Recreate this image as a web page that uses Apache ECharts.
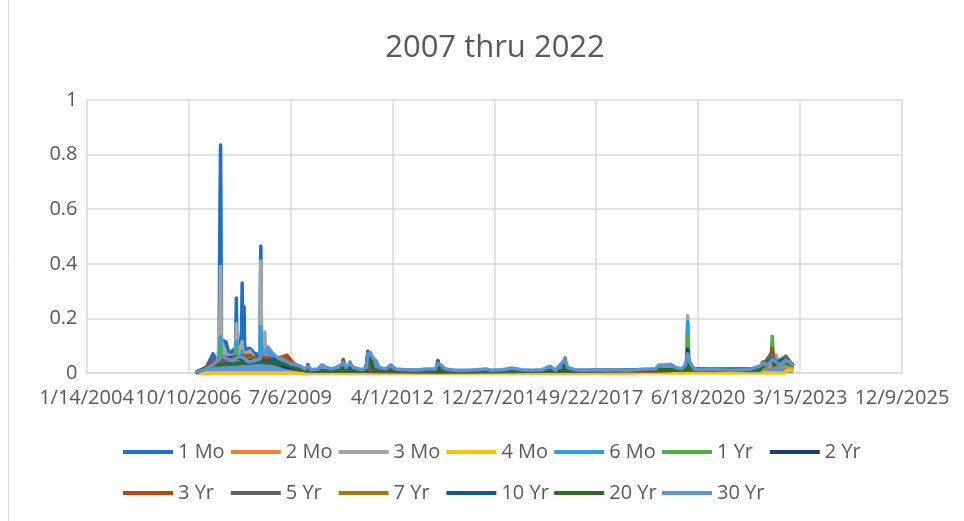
<!DOCTYPE html>
<html>
<head>
<meta charset="utf-8">
<script src="https://cdn.jsdelivr.net/npm/echarts@6/dist/echarts.min.js"></script>
<style>
  html, body { margin: 0; padding: 0; background: #fff; }
  #chart { width: 964px; height: 521px; }
</style>
</head>
<body>
<div id="chart"></div>
<script>
// dates are Excel serial day numbers (38000 = 1/14/2004)
const xTickLabels = ['1/14/2004', '10/10/2006', '7/6/2009', '4/1/2012', '12/27/2014',
  '9/22/2017', '6/18/2020', '3/15/2023', '12/9/2025'];
const xMin = 38000;
const xStep = 1000;
const yTicks = [0, 0.2, 0.4, 0.6, 0.8, 1];

const names = ['1 Mo', '2 Mo', '3 Mo', '4 Mo', '6 Mo', '1 Yr', '2 Yr', '3 Yr', '5 Yr', '7 Yr', '10 Yr', '20 Yr', '30 Yr'];
const colors = ['#1F6FC6', '#F57F30', '#A5A5A5', '#FFC000', '#27A0DC', '#4CB043', '#143F6E',
  '#B5480E', '#636363', '#A57A08', '#105A94', '#2E6B26', '#5B93D9'];

const mo1 = [[39083,0.005],[39162,0.01],[39241,0.07],[39270,0.05],[39300,0.06],[39309,0.6],[39315,0.835],[39319,0.58],[39324,0.12],[39368,0.115],[39400,0.07],[39427,0.08],[39462,0.09],[39470,0.275],[39476,0.1],[39506,0.1],[39521,0.15],[39527,0.33],[39533,0.12],[39541,0.1],[39546,0.243],[39552,0.09],[39604,0.09],[39653,0.07],[39700,0.07],[39705,0.3],[39710,0.465],[39716,0.15],[39740,0.09],[39780,0.08],[39849,0.05],[39967,0.03],[40094,0.015],[40300,0.008],[41000,0.006],[42000,0.006],[43000,0.008],[43880,0.01],[43897,0.06],[43915,0.01],[44600,0.008],[44727,0.03],[44925,0.02]];
const mo2 = [[39083,0],[43380,0],[43395,0.008],[43880,0.01],[43897,0.05],[43915,0.01],[44600,0.008],[44727,0.03],[44925,0.02]];
const mo3 = [[39083,0.003],[39241,0.03],[39290,0.05],[39309,0.2],[39315,0.39],[39321,0.12],[39368,0.07],[39427,0.06],[39462,0.07],[39470,0.18],[39477,0.08],[39506,0.09],[39527,0.115],[39535,0.07],[39604,0.08],[39653,0.05],[39700,0.06],[39705,0.2],[39710,0.41],[39718,0.12],[39743,0.1],[39750,0.15],[39757,0.06],[39849,0.04],[39967,0.02],[40094,0.012],[40300,0.007],[41500,0.005],[43000,0.007],[43885,0.012],[43897,0.21],[43908,0.015],[44600,0.008],[44700,0.03],[44765,0.066],[44800,0.03],[44830,0.04],[44860,0.063],[44890,0.035],[44925,0.03]];
const mo4 = [[39083,0],[44850,0],[44870,0.01],[44925,0.01]];
const mo6 = [[39083,0.003],[39241,0.03],[39300,0.04],[39310,0.1],[39315,0.133],[39321,0.05],[39368,0.06],[39462,0.05],[39470,0.115],[39477,0.05],[39521,0.05],[39527,0.08],[39535,0.05],[39604,0.05],[39700,0.05],[39705,0.1],[39710,0.17],[39716,0.07],[39780,0.08],[39849,0.04],[39967,0.02],[40094,0.012],[40300,0.007],[41500,0.005],[43000,0.007],[43885,0.012],[43893,0.1],[43897,0.188],[43903,0.14],[43910,0.015],[44600,0.008],[44727,0.05],[44925,0.03]];
const yr1 = [[39083,0.003],[39241,0.03],[39300,0.04],[39315,0.099],[39321,0.05],[39462,0.04],[39470,0.09],[39477,0.04],[39604,0.05],[39710,0.06],[39849,0.04],[39967,0.02],[40094,0.012],[40300,0.007],[41500,0.005],[43000,0.007],[43885,0.012],[43897,0.139],[43908,0.015],[44600,0.01],[44715,0.04],[44727,0.135],[44740,0.04],[44800,0.03],[44925,0.03]];
const yr2 = [[39083,0.003],[39241,0.03],[39315,0.05],[39470,0.06],[39527,0.05],[39604,0.045],[39710,0.06],[39849,0.035],[39967,0.02],[40094,0.012],[40300,0.007],[41500,0.005],[42680,0.007],[42694,0.03],[42710,0.007],[43600,0.008],[43616,0.02],[43630,0.008],[43885,0.012],[43897,0.087],[43912,0.015],[44600,0.01],[44727,0.075],[44745,0.03],[44860,0.05],[44925,0.03]];
const yr3 = [[39083,0.004],[39162,0.015],[39241,0.045],[39300,0.04],[39400,0.05],[39480,0.06],[39604,0.065],[39653,0.05],[39720,0.06],[39849,0.05],[39967,0.065],[40020,0.04],[40094,0.02],[40160,0.008],[40173,0.025],[40190,0.008],[40740,0.008],[40761,0.05],[40780,0.008],[41430,0.008],[41448,0.035],[41465,0.008],[42680,0.008],[42694,0.04],[42710,0.008],[43600,0.008],[43616,0.028],[43630,0.008],[43885,0.012],[43897,0.07],[43912,0.012],[44600,0.012],[44636,0.04],[44700,0.04],[44727,0.09],[44745,0.04],[44800,0.035],[44860,0.06],[44925,0.03]];
const yr5 = [[39083,0.004],[39241,0.03],[39400,0.035],[39604,0.04],[39849,0.04],[39967,0.035],[40094,0.015],[40160,0.008],[40173,0.025],[40190,0.008],[40740,0.008],[40761,0.06],[40780,0.01],[41430,0.008],[41448,0.04],[41465,0.008],[42680,0.008],[42694,0.045],[42710,0.008],[43885,0.012],[43897,0.06],[43912,0.012],[44600,0.012],[44727,0.07],[44745,0.03],[44860,0.06],[44925,0.03]];
const yr7 = [[39083,0.004],[39241,0.03],[39500,0.035],[39700,0.04],[39849,0.04],[39900,0.045],[39918,0.06],[39940,0.035],[39967,0.03],[40094,0.015],[40155,0.008],[40173,0.03],[40190,0.008],[40500,0.008],[40519,0.05],[40540,0.012],[40570,0.012],[40585,0.04],[40600,0.01],[40740,0.008],[40761,0.075],[40790,0.05],[40815,0.01],[41430,0.008],[41448,0.047],[41465,0.008],[42680,0.008],[42694,0.055],[42710,0.008],[43600,0.008],[43616,0.025],[43630,0.008],[43885,0.012],[43897,0.06],[43912,0.012],[44600,0.015],[44636,0.04],[44660,0.02],[44727,0.06],[44745,0.03],[44832,0.055],[44860,0.045],[44925,0.03]];
const yr10 = [[39083,0.004],[39241,0.03],[39500,0.035],[39700,0.04],[39880,0.05],[39900,0.035],[39967,0.03],[40094,0.015],[40155,0.008],[40173,0.028],[40190,0.008],[40500,0.008],[40519,0.045],[40540,0.01],[40570,0.01],[40585,0.035],[40600,0.01],[40740,0.008],[40761,0.075],[40790,0.05],[40815,0.01],[41430,0.008],[41448,0.043],[41465,0.008],[42680,0.008],[42694,0.05],[42710,0.008],[43885,0.012],[43897,0.065],[43912,0.012],[44600,0.015],[44727,0.055],[44745,0.03],[44832,0.05],[44860,0.04],[44925,0.03]];
const yr20 = [[39083,0.004],[39241,0.028],[39500,0.035],[39700,0.04],[39849,0.035],[39967,0.03],[40094,0.015],[40155,0.008],[40173,0.03],[40190,0.008],[40500,0.008],[40519,0.043],[40540,0.008],[40740,0.008],[40761,0.08],[40790,0.05],[40815,0.01],[41430,0.008],[41448,0.04],[41465,0.008],[42680,0.008],[42694,0.048],[42710,0.008],[43885,0.012],[43897,0.07],[43912,0.012],[44600,0.015],[44727,0.052],[44745,0.03],[44832,0.045],[44925,0.03]];
const yr30 = [[39083,0.005],[39162,0.012],[39241,0.03],[39290,0.045],[39330,0.06],[39390,0.05],[39440,0.045],[39490,0.06],[39540,0.055],[39590,0.04],[39640,0.045],[39690,0.05],[39725,0.07],[39760,0.08],[39780,0.095],[39820,0.075],[39860,0.06],[39900,0.05],[39950,0.045],[40000,0.035],[40050,0.03],[40100,0.025],[40140,0.015],[40173,0.025],[40205,0.012],[40270,0.015],[40310,0.03],[40350,0.02],[40400,0.015],[40450,0.02],[40500,0.03],[40519,0.04],[40545,0.02],[40585,0.035],[40620,0.02],[40700,0.012],[40745,0.02],[40761,0.072],[40785,0.075],[40810,0.055],[40840,0.045],[40870,0.02],[40940,0.015],[40985,0.03],[41030,0.015],[41130,0.012],[41230,0.01],[41330,0.015],[41420,0.015],[41448,0.035],[41475,0.03],[41520,0.015],[41620,0.01],[41720,0.01],[41820,0.012],[41920,0.015],[41970,0.01],[42070,0.012],[42120,0.015],[42170,0.018],[42270,0.012],[42370,0.01],[42470,0.012],[42550,0.025],[42600,0.01],[42694,0.05],[42720,0.02],[42790,0.012],[42890,0.01],[42990,0.012],[43090,0.01],[43190,0.012],[43290,0.01],[43390,0.012],[43490,0.015],[43580,0.015],[43616,0.028],[43680,0.03],[43730,0.032],[43780,0.02],[43840,0.015],[43875,0.03],[43897,0.07],[43920,0.04],[43960,0.015],[44020,0.012],[44120,0.015],[44220,0.012],[44320,0.01],[44420,0.012],[44520,0.015],[44600,0.025],[44650,0.035],[44690,0.03],[44727,0.05],[44765,0.04],[44805,0.03],[44855,0.045],[44895,0.04],[44925,0.03]];

const values = [mo1, mo2, mo3, mo4, mo6, yr1, yr2, yr3, yr5, yr7, yr10, yr20, yr30];

const font = "'Open Sans', sans-serif";
const textColor = '#595959';
const gridColor = '#D9D9D9';

const chart = echarts.init(document.getElementById('chart'));

// one legend per item so the columns line up like Excel's grid
const legends = names.map((n, i) => ({
  data: [n],
  left: 123 + (i % 7) * 107.8,
  top: i < 7 ? 442 : 483,
  padding: 0,
  icon: 'rect',
  itemWidth: 50,
  itemHeight: 4,
  itemGap: 0,
  textStyle: { color: textColor, fontSize: 20, fontFamily: font }
}));

const option = {
  animation: false,
  backgroundColor: '#fff',
  legend: legends,
  grid: { left: 86.5, right: 62, top: 100, bottom: 148 },
  xAxis: {
    type: 'value',
    min: xMin,
    max: xMin + xStep * (xTickLabels.length - 1),
    interval: xStep,
    axisLine: { show: true, lineStyle: { color: gridColor, width: 1.5 } },
    axisTick: { show: false },
    splitLine: { show: true, lineStyle: { color: gridColor, width: 1.5 } },
    axisLabel: {
      color: textColor, fontSize: 20, fontFamily: font, margin: 15,
      formatter: v => xTickLabels[Math.round((v - xMin) / xStep)]
    }
  },
  yAxis: {
    type: 'value',
    min: yTicks[0],
    max: yTicks[yTicks.length - 1],
    interval: 0.2,
    axisLine: { show: false },
    axisTick: { show: false },
    splitLine: { lineStyle: { color: gridColor, width: 1.5 } },
    axisLabel: { color: textColor, fontSize: 20, fontFamily: font, margin: 9 }
  },
  graphic: [{
    type: 'line',
    shape: { x1: 8.5, y1: 0, x2: 8.5, y2: 521 },
    style: { stroke: gridColor, lineWidth: 1 }
  }, {
    // Excel centres the title over the whole chart area, which runs past the right edge
    type: 'text',
    x: 495,
    y: 48,
    style: {
      text: '2007 thru 2022', fill: textColor, font: "31px 'Open Sans', sans-serif",
      align: 'center', verticalAlign: 'middle'
    }
  }],
  series: names.map((n, i) => ({
    name: n,
    type: 'line',
    data: values[i],
    symbol: 'none',
    color: colors[i],
    lineStyle: { width: 3.5, color: colors[i], cap: 'round', join: 'round' },
    areaStyle: { color: colors[i], opacity: 1 }
  }))
};

chart.setOption(option);
</script>
</body>
</html>
